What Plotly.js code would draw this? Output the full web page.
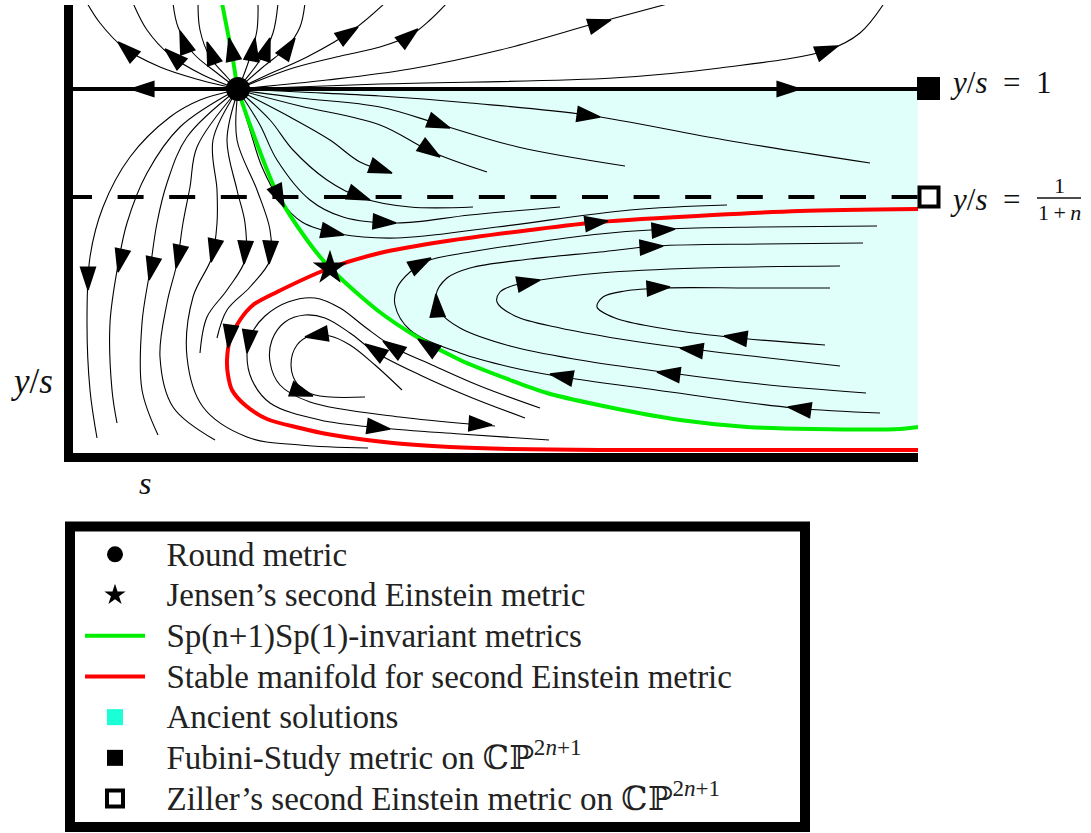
<!DOCTYPE html>
<html>
<head>
<meta charset="utf-8">
<script src="https://cdn.plot.ly/plotly-3.0.1.min.js"></script>
<style>html,body{margin:0;padding:0;background:#fff;}#chart{width:1091px;height:833px;}</style>
</head>
<body>
<div id="chart"></div>
<script>
// ---- Data (in the picture's s / (y/s) plane units) ----
const roundMetric = [[238, 89]];
const jensenStar = [[330, 268]];
const fubiniStudy = [[928.5, 88.5]];
const zillerMetric = [[929, 197]];
const lineYs1 = [[73, 89], [918, 89]];
const lineYsFrac = [[66, 197], [918, 197]];

const greenCurve = [[222,3],[233,60],[238,89],[253,133],[277,193],[307,240],[330,268],[377,310],[417,337],[460,360],[510,380],[547,393],[613,408],[680,420],[747,427],[813,429],[900,429],[918,427]];
const redCurve = [[918,209],[800,211],[713,215],[600,222],[530,230],[447,241],[380,253],[330,268],[277,292],[253,305],[240,320],[230,340],[227,360],[228,375],[232,390],[245,405],[267,419],[300,428],[327,434],[393,443],[450,447],[510,449],[600,450],[918,450]];

const topLines = [
  [[238,89],[200,80],[160,67],[123,47],[100,23],[87,3]],
  [[238,89],[203,75],[170,55],[147,30],[133,3]],
  [[238,89],[217,73],[193,53],[178,27],[173,3]],
  [[238,89],[227,77],[210,57],[200,30],[198,3]],
  [[238,89],[243,77],[250,57],[257,30],[258,3]],
  [[238,89],[245,80],[260,60],[273,33],[278,3]],
  [[238,89],[263,67],[287,47],[300,27],[305,3]],
  [[238,89],[267,75],[307,57],[353,30],[385,3]],
  [[238,89],[293,68],[345,55],[380,47],[411,35],[430,20],[447,3]],
  [[238,89],[327,80],[410,69],[500,50],[600,22],[671,3]],
  [[238,89],[380,84],[613,78],[720,68],[828,50],[860,33],[883,5]]
];
const cyanLines = [
  [[238,89],[300,92],[380,96],[470,103],[587,115],[725,140],[870,163]],
  [[238,90],[300,98],[380,107],[442,125],[518,147],[625,166]],
  [[238,90],[300,106],[380,125],[432,152],[487,172]],
  [[238,90],[290,117],[330,140],[360,162],[392,173]],
  [[238,90],[270,120],[293,150],[327,180],[362,198],[410,207],[473,207]],
  [[238,90],[260,125],[277,160],[310,200],[343,217],[397,223],[470,215],[560,207]],
  [[238,90],[250,130],[262,167],[280,200],[302,222],[340,234],[397,238],[497,227],[630,210],[727,205]]
];
const loopLines = [
  [[880,413],[794,408],[656,390],[556,376],[510,367],[460,353],[410,330],[395,305],[397,288],[410,272],[427,261],[470,252],[530,243],[600,234],[667,229],[760,227],[877,226]],
  [[866,393],[760,384],[663,372],[580,360],[510,346],[460,328],[440,312],[436,295],[447,278],[470,268],[530,259],[600,252],[657,246],[760,244],[863,243]],
  [[840,366],[760,357],[683,348],[620,339],[560,328],[515,316],[497,302],[500,292],[515,285],[540,280],[600,273],[700,268],[840,266]],
  [[825,345],[728,337],[660,328],[615,318],[597,307],[603,297],[625,291],[663,288],[750,288],[830,288]]
];
const leftLines = [
  [[236,90],[200,100],[170,117],[130,157],[103,207],[90,257],[87,323],[90,390],[97,438]],
  [[236,90],[180,127],[147,173],[127,223],[118,265],[110,323],[112,390],[117,423]],
  [[237,90],[187,137],[167,183],[157,223],[150,270],[142,323],[142,390],[158,435]],
  [[237,91],[197,147],[190,187],[183,223],[177,263],[167,303],[160,357],[173,407],[215,440]],
  [[237,91],[213,140],[217,190],[217,223],[212,257],[193,297],[187,357],[203,407],[247,437],[300,445],[368,448]],
  [[238,91],[227,140],[237,190],[245,223],[245,260],[227,290],[207,317],[200,353]],
  [[238,91],[237,140],[257,190],[270,230],[270,260],[250,287],[227,310],[217,338]]
];
const lowerLines = [
  [[540,408],[480,386],[430,364],[395,348],[365,327],[340,308],[315,298],[288,302],[265,316],[252,333],[247,355],[252,380],[270,403],[320,420],[382,428],[460,434],[549,440]],
  [[525,418],[470,397],[420,375],[375,352],[350,333],[325,318],[305,315],[285,322],[272,340],[270,362],[280,385],[310,402],[400,417],[482,425],[495,426]],
  [[402,390],[375,365],[350,345],[330,336],[310,336],[297,345],[291,365],[298,385],[315,395],[365,397]]
];
const fillBoundary = greenCurve.slice(2).concat([[918,89]]);

const arrowTails = [[128,51],[175,58],[184,42],[211,53],[232,52],[253,50],[266,50],[289,47],[346,35],[408,37],[598,24],[825,51],[145,89],[786,89],
  [585,115],[437,123],[428,149],[378,168],[357,195],[381,222],[330,232],[278,194],[593,223],[230,333],[432,349],
  [565,377],[802,409],[418,265],[660,230],[437,308],[648,247],[672,374],[525,283],[695,350],[655,288],[740,338],
  [88,275],[121,258],[152,266],[179,254],[214,248],[245,250],[270,250],
  [395,349],[249,338],[375,427],[377,352],[478,424],[318,335],[298,391]];
const arrowTips = [[118,42],[165,49],[180,31],[207,42],[229,38],[255,38],[270,38],[295,38],[358,27],[418,29],[611,20],[838,46],[131,89],[800,89],
  [600,117],[450,128],[440,157],[392,173],[370,200],[396,223],[344,235],[284,207],[608,221],[228,348],[418,339],
  [550,374],[788,407],[431,258],[675,229],[436,294],[663,246],[657,372],[540,280],[680,348],[670,287],[724,336],
  [88,290],[118,272],[149,280],[176,268],[211,262],[244,264],[269,264],
  [383,341],[247,353],[390,429],[365,344],[492,425],[305,337],[313,396]];

const legendNames = ["Round metric", "Jensen’s second Einstein metric", "Sp(n+1)Sp(1)-invariant metrics",
  "Stable manifold for second Einstein metric", "Ancient solutions",
  "Fubini-Study metric on ℂℙ<sup>2<i>n</i>+1</sup>", "Ziller’s second Einstein metric on ℂℙ<sup>2<i>n</i>+1</sup>"];

// ---- Geometry helpers ----
const L = 73, R = 918, RX = 950, T = 5, B = 453;
const PX = p => (p - L) / (RX - L);
const PY = p => (B - p) / (B - T);
const xs = a => a.map(p => p[0]);
const ys = a => a.map(p => p[1]);
const FONT = "'Liberation Serif', 'DejaVu Serif', serif";
const nm = s => '<span style="font-size:33px">&nbsp;&nbsp;' + s + '</span>';

const traces = [];
traces.push({x: xs(fillBoundary), y: ys(fillBoundary), mode: 'lines', fill: 'toself',
  fillcolor: 'rgba(26,255,213,0.13)', line: {width: 0}, showlegend: false, hoverinfo: 'skip'});
[topLines, cyanLines, loopLines, leftLines, lowerLines].forEach(group => group.forEach(l => {
  traces.push({x: xs(l), y: ys(l), mode: 'lines', line: {color: 'black', width: 1.1, shape: 'spline', smoothing: 1},
    showlegend: false, hoverinfo: 'skip'});
}));
traces.push({x: xs(lineYs1), y: ys(lineYs1), mode: 'lines', line: {color: 'black', width: 4}, showlegend: false, hoverinfo: 'skip'});
traces.push({x: xs(lineYsFrac), y: ys(lineYsFrac), mode: 'lines', line: {color: 'black', width: 4, dash: '26px,25.6px'}, showlegend: false, hoverinfo: 'skip'});
traces.push({x: xs(greenCurve), y: ys(greenCurve), mode: 'lines', name: nm(legendNames[2]), legendrank: 3,
  line: {color: '#00EE00', width: 4, shape: 'spline', smoothing: 0.8}, hoverinfo: 'skip'});
traces.push({x: xs(redCurve), y: ys(redCurve), mode: 'lines', name: nm(legendNames[3]), legendrank: 4,
  line: {color: '#FF0000', width: 4, shape: 'spline', smoothing: 0.8}, hoverinfo: 'skip'});

// arrowheads
const ax = [], ay = [], as = [];
arrowTails.forEach((t, i) => { ax.push(t[0], arrowTips[i][0]); ay.push(t[1], arrowTips[i][1]); as.push(0, 24); });
traces.push({x: ax, y: ay, mode: 'markers', showlegend: false, hoverinfo: 'skip', cliponaxis: false,
  marker: {symbol: 'arrow', size: as, color: 'black', opacity: 1, angleref: 'previous', angle: 0, line: {width: 1.5, color: 'black'}}});

traces.push({x: xs(roundMetric), y: ys(roundMetric), mode: 'markers', name: nm(legendNames[0]), legendrank: 1,
  marker: {symbol: 'circle', size: 24, color: 'black'}, hoverinfo: 'skip'});
traces.push({x: xs(jensenStar), y: ys(jensenStar), mode: 'markers', name: nm(legendNames[1]), legendrank: 2,
  marker: {symbol: 'star', size: 26, color: 'black'}, hoverinfo: 'skip'});
traces.push({x: [null], y: [null], mode: 'markers', marker: {symbol: 'square', size: 16, color: '#1AFFD5'},
  name: nm(legendNames[4]), legendrank: 5, hoverinfo: 'skip'});
traces.push({x: xs(fubiniStudy), y: ys(fubiniStudy), xaxis: 'x2', mode: 'markers', name: nm(legendNames[5]), legendrank: 6,
  marker: {symbol: 'square', size: 23, color: 'black'}, hoverinfo: 'skip'});
traces.push({x: xs(zillerMetric), y: ys(zillerMetric), xaxis: 'x2', mode: 'markers', name: nm(legendNames[6]), legendrank: 7,
  marker: {symbol: 'square-open', size: 19, color: 'black', line: {width: 4, color: 'black'}}, hoverinfo: 'skip'});

const ann = (px, py, text, size, xa) => ({xref: 'paper', yref: 'paper', x: PX(px), y: PY(py), text: text, showarrow: false,
  xanchor: xa || 'center', yanchor: 'middle', font: {size: size, color: '#111'}});

const layout = {
  width: 1091, height: 833,
  font: {family: FONT, color: '#111'},
  margin: {l: L, r: 1091 - RX, t: T, b: 833 - B, pad: 0},
  paper_bgcolor: 'white', plot_bgcolor: 'rgba(0,0,0,0)',
  showlegend: true, hovermode: false,
  xaxis: {domain: [0, (R - L) / (RX - L)], range: [L, R], showgrid: false, zeroline: false, showticklabels: false, ticks: '',
    showline: true, linecolor: 'black', linewidth: 9, fixedrange: true},
  xaxis2: {domain: [0, 1], range: [L, RX], anchor: 'y', showgrid: false, zeroline: false, showticklabels: false,
    ticks: '', showline: false, fixedrange: true},
  yaxis: {range: [B, T], showgrid: false, zeroline: false, showticklabels: false, ticks: '',
    showline: true, linecolor: 'black', linewidth: 9, fixedrange: true},
  legend: {x: PX(80), y: PY(529), xanchor: 'left', yanchor: 'top', bgcolor: 'rgba(0,0,0,0)', borderwidth: 0,
    font: {family: FONT, size: 29, color: '#222'}, itemwidth: 60, traceorder: 'normal'},
  shapes: [
    {type: 'rect', xref: 'paper', yref: 'paper', x0: PX(70), x1: PX(805), y0: PY(526.5), y1: PY(827), line: {color: 'black', width: 10}},
    {type: 'line', xref: 'paper', yref: 'paper', x0: PX(1037), x1: PX(1081), y0: PY(198), y1: PY(198), line: {color: '#111', width: 1.3}}
  ],
  annotations: [
    ann(948, 82, '<i>y</i>/<i>s</i>&nbsp;&nbsp;=&nbsp;&nbsp;1', 31, 'left'),
    ann(948, 200, '<i>y</i>/<i>s</i>&nbsp;&nbsp;=', 31, 'left'),
    ann(1059, 186, '1', 22),
    ann(1059, 212, '1&#8201;+&#8201;<i>n</i>', 22),
    ann(32, 381, '<i>y</i>/<i>s</i>', 35),
    ann(145, 483, '<i>s</i>', 32)
  ]
};

Plotly.newPlot('chart', traces, layout, {displayModeBar: false, staticPlot: true});
</script>
</body>
</html>
